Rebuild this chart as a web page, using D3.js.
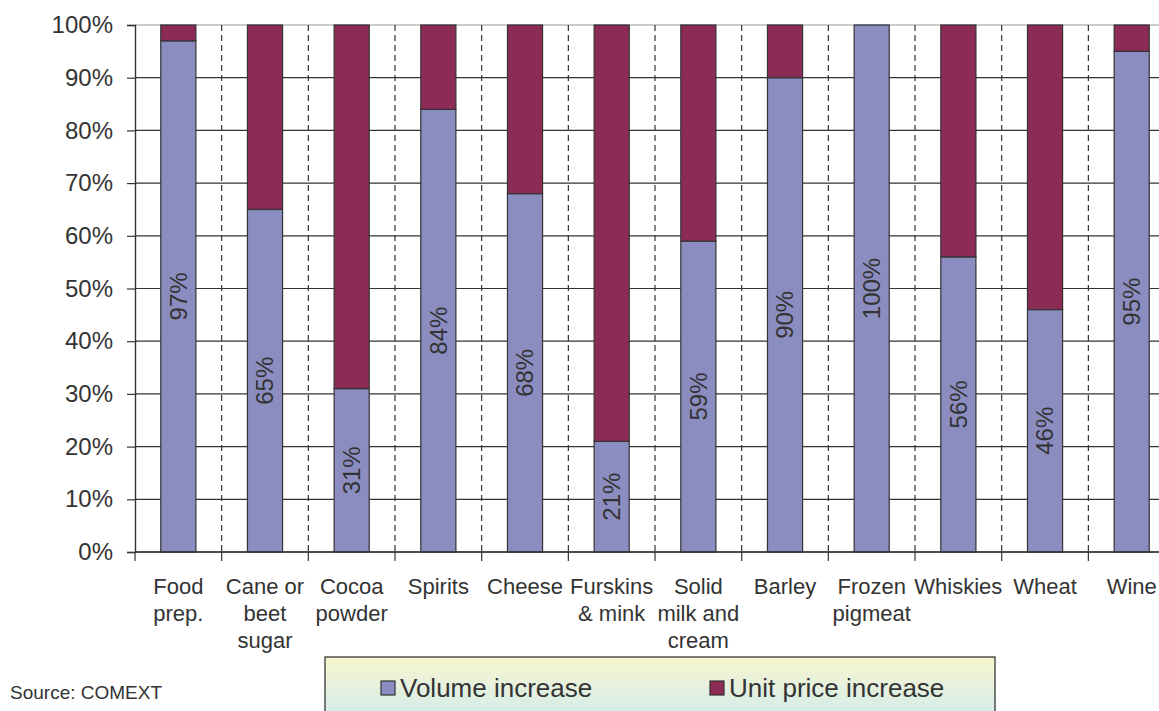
<!DOCTYPE html>
<html>
<head>
<meta charset="utf-8">
<script src="https://cdn.jsdelivr.net/npm/d3@7/dist/d3.min.js"></script>
<style>
  html, body { margin: 0; padding: 0; background: #fff; }
  svg { display: block; font-family: "Liberation Sans", Arial, sans-serif; }
</style>
</head>
<body>
<svg id="chart" width="1159" height="711"></svg>
<script>
// Categories (label lines) and the share of export growth due to volume
const categories = [
  ["Food", "prep."],
  ["Cane or", "beet", "sugar"],
  ["Cocoa", "powder"],
  ["Spirits"],
  ["Cheese"],
  ["Furskins", "& mink"],
  ["Solid", "milk and", "cream"],
  ["Barley"],
  ["Frozen", "pigmeat"],
  ["Whiskies"],
  ["Wheat"],
  ["Wine"]
];
const volumeIncrease = [97, 65, 31, 84, 68, 21, 59, 90, 100, 56, 46, 95];
const unitPriceIncrease = volumeIncrease.map(v => 100 - v);
const yTicks = [0, 10, 20, 30, 40, 50, 60, 70, 80, 90, 100];
const seriesNames = ["Volume increase", "Unit price increase"];
const colors = ["#8b8dc1", "#8c2b56"];

const svg = d3.select("#chart");
const plotLeft = 135, plotTop = 25, plotBottom = 552;
const bandStep = 86.67;
const plotRight = plotLeft + bandStep * categories.length;
const keys = categories.map((c, i) => i);

const x = d3.scaleBand().domain(keys).range([plotLeft, plotRight])
  .paddingInner(0.595).paddingOuter(0.2975);
const y = d3.scaleLinear().domain([0, 100]).range([plotBottom, plotTop]);

// horizontal gridlines
svg.append("g").selectAll("line").data(yTicks).join("line")
  .attr("x1", plotLeft).attr("x2", plotRight)
  .attr("y1", d => y(d)).attr("y2", d => y(d))
  .attr("stroke", d => d === 100 ? "#9a9a9a" : "#333").attr("stroke-width", 1.2);

// dashed separators between categories
svg.append("g").selectAll("line").data(keys.slice(1)).join("line")
  .attr("x1", d => plotLeft + d * bandStep).attr("x2", d => plotLeft + d * bandStep)
  .attr("y1", plotTop).attr("y2", plotBottom)
  .attr("stroke", "#333").attr("stroke-width", 1.2)
  .attr("stroke-dasharray", "6,4");

// stacked bars
const stackData = keys.map(i => ({ i, vol: volumeIncrease[i], price: unitPriceIncrease[i] }));
const stacked = d3.stack().keys(["vol", "price"])(stackData);
svg.append("g").selectAll("g").data(stacked).join("g")
  .attr("fill", (d, k) => colors[k])
  .selectAll("rect").data(d => d.filter(s => s[1] - s[0] > 0)).join("rect")
  .attr("x", d => x(d.data.i))
  .attr("width", x.bandwidth())
  .attr("y", d => y(d[1]))
  .attr("height", d => y(d[0]) - y(d[1]))
  .attr("stroke", "#333").attr("stroke-width", 1.2);

// value labels inside the volume segment
svg.append("g").selectAll("text").data(stackData).join("text")
  .attr("transform", d => `translate(${x(d.i) + x.bandwidth() / 2},${(y(0) + y(d.vol)) / 2}) rotate(-90)`)
  .attr("text-anchor", "middle").attr("dy", "0.35em")
  .attr("font-size", 24).attr("fill", "#333")
  .text(d => d.vol + "%");

// y axis
const yAxis = d3.axisLeft(y).tickValues(yTicks).tickFormat(d => d + "%").tickSize(8).tickPadding(14);
const gy = svg.append("g").attr("transform", `translate(${plotLeft},0)`).call(yAxis);
gy.select(".domain").attr("stroke", "#333").attr("stroke-width", 1.4);
gy.selectAll(".tick line").attr("stroke", "#333").attr("stroke-width", 1.2);
gy.selectAll(".tick text").attr("font-size", 24).attr("fill", "#333")
  .attr("font-family", "Liberation Sans, Arial, sans-serif");

// x axis baseline with boundary ticks
svg.append("line").attr("x1", plotLeft).attr("x2", plotRight).attr("y1", plotBottom).attr("y2", plotBottom)
  .attr("stroke", "#333").attr("stroke-width", 1.4);
svg.append("g").selectAll("line").data(d3.range(categories.length + 1)).join("line")
  .attr("x1", d => plotLeft + d * bandStep).attr("x2", d => plotLeft + d * bandStep)
  .attr("y1", plotBottom).attr("y2", plotBottom + 9)
  .attr("stroke", "#333").attr("stroke-width", 1.2);

// category labels
const catText = svg.append("g").selectAll("text").data(keys).join("text")
  .attr("text-anchor", "middle").attr("font-size", 22).attr("fill", "#333")
  .attr("x", i => x(i) + x.bandwidth() / 2).attr("y", 594);
catText.selectAll("tspan").data(i => categories[i].map(t => ({ t, i }))).join("tspan")
  .attr("x", d => x(d.i) + x.bandwidth() / 2)
  .attr("dy", (d, k) => k === 0 ? 0 : 27)
  .text(d => d.t);

// source note
svg.append("text").attr("x", 10).attr("y", 699).attr("font-size", 19).attr("fill", "#333")
  .text("Source: COMEXT");

// legend
const defs = svg.append("defs");
const grad = defs.append("linearGradient").attr("id", "legendBg").attr("x1", 0).attr("x2", 0).attr("y1", 0).attr("y2", 1);
grad.append("stop").attr("offset", "0%").attr("stop-color", "#f8f6cf");
grad.append("stop").attr("offset", "100%").attr("stop-color", "#cde9f1");
svg.append("rect").attr("x", 325).attr("y", 657).attr("width", 670).attr("height", 70)
  .attr("fill", "url(#legendBg)").attr("stroke", "#444").attr("stroke-width", 1.4);
const legendX = [381, 710];
const leg = svg.append("g").selectAll("g").data(seriesNames).join("g")
  .attr("transform", (d, k) => `translate(${legendX[k]},681)`);
leg.append("rect").attr("width", 14).attr("height", 14)
  .attr("fill", (d, k) => colors[k]).attr("stroke", "#333").attr("stroke-width", 1.2);
leg.append("text").attr("x", 19).attr("y", 16)
  .attr("font-size", 26).attr("fill", "#333").text(d => d);
</script>
</body>
</html>
